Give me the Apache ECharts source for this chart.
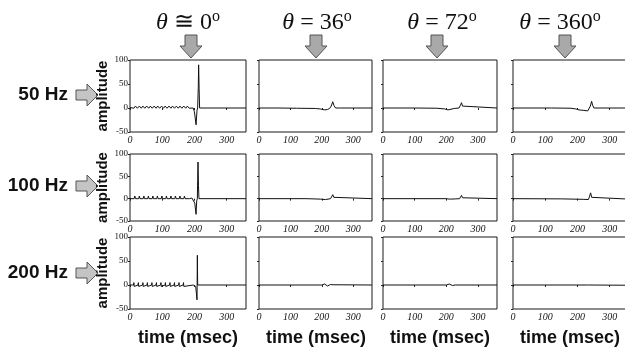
<!DOCTYPE html>
<html>
<head>
<meta charset="utf-8">
<script src="https://cdn.jsdelivr.net/npm/echarts@6/dist/echarts.min.js"></script>
<style>
  html, body { margin: 0; padding: 0; background: #fff; }
  #chart { width: 625px; height: 347px; }
</style>
</head>
<body>
<div id="chart"></div>
<script>
// Row and column headings
const rowLabels = ['50 Hz', '100 Hz', '200 Hz'];
const angleLabels = [
  { sym: '≅', deg: '0' },
  { sym: '=', deg: '36' },
  { sym: '=', deg: '72' },
  { sym: '=', deg: '360' }
];
const xTitle = 'time (msec)';
const yTitle = 'amplitude';
const xTicks = [0, 100, 200, 300];
const yTicks = [-50, 0, 50, 100];

// Waveforms: [time (msec), amplitude]
// 50 Hz
const wave50_0 = [[0,1],[6,4],[12,-0.5],[17,4],[23,-0.5],[29,4],[35,-0.5],[40,4],[46,-0.5],[52,4],[58,-0.5],[63,4],[69,-0.5],[75,4],[81,-0.5],[86,4],[92,-0.5],[98,4],[104,-0.5],[109,4],[115,-0.5],[121,4],[127,-0.5],[132,4],[138,-0.5],[144,4],[150,-0.5],[155,4],[161,-0.5],[167,4],[173,-0.5],[178,4],[184,-0.5],[190,2],[196,0],[200,-8],[205,-35],[208,-5],[210,0],[212,45],[213,90],[214.5,40],[216,0],[360,0]];
const wave50_36 = [[0,0],[60,0],[120,-0.5],[180,-1],[195,-2],[200,-4],[210,-4],[218,-3],[225,-1],[230,4],[235,13],[239,5],[244,0],[260,0],[360,0]];
const wave50_72 = [[0,0],[100,0],[170,-0.5],[195,-2],[205,-4],[210,-2],[225,-1],[240,0],[244,5],[248,11],[251,4],[255,0],[360,0]];
const wave50_360 = [[0,0],[120,0],[180,-0.5],[195,-2],[205,-4],[220,-5],[232,-6],[237,-4],[240,4],[244,14],[247,6],[251,0],[360,0]];
// 100 Hz
const wave100_0 = [[0,0],[13,0],[15,6],[17,0],[27,0],[29,6],[31,0],[41,0],[43,6],[45,0],[55,0],[57,6],[59,0],[69,0],[71,6],[73,0],[83,0],[85,6],[87,0],[97,0],[99,6],[101,0],[111,0],[113,6],[115,0],[125,0],[127,6],[129,0],[139,0],[141,6],[143,0],[153,0],[155,6],[157,0],[167,0],[169,6],[171,0],[185,0],[192,1.5],[198,0],[201,-10],[205,-35],[207,-5],[209,0],[210,40],[211,82],[212.5,30],[214,0],[360,0]];
const wave100_36 = [[0,0],[150,0],[195,-1],[200,-2],[212,-2],[220,-1],[228,0],[231,4],[235,9],[238,3],[242,0],[360,0]];
const wave100_72 = [[0,0],[200,0],[210,-1],[230,-0.5],[242,0],[245,4],[248,7.5],[251,2],[254,0],[360,0]];
const wave100_360 = [[0,0],[150,-0.5],[220,-1.5],[234,-2],[237,4],[241,13],[244,3],[248,-0.5],[360,-1]];
// 200 Hz
const wave200_0 = [[0,0],[11,0],[12,5],[13,-3],[14,0],[25,0],[26,5],[27,-3],[28,0],[39,0],[40,5],[41,-3],[42,0],[53,0],[54,5],[55,-3],[56,0],[67,0],[68,5],[69,-3],[70,0],[81,0],[82,5],[83,-3],[84,0],[95,0],[96,5],[97,-3],[98,0],[109,0],[110,5],[111,-3],[112,0],[123,0],[124,5],[125,-3],[126,0],[137,0],[138,5],[139,-3],[140,0],[151,0],[152,5],[153,-3],[154,0],[165,0],[166,5],[167,-3],[168,0],[196,0],[198,4],[200,-4],[202,3],[204,-3],[206,0],[208,-31],[209,62],[210,0],[360,0]];
const wave200_36 = [[0,0],[200,0],[203,2],[206,-2],[209,2],[212,-2],[215,2],[218,-2],[221,1.5],[224,-1.5],[228,1],[232,-1],[236,0.5],[242,0],[360,0]];
const wave200_72 = [[0,0],[200,0],[203,1.5],[206,-2],[209,2],[212,-1.5],[215,1.5],[219,-1],[223,0.5],[228,0],[360,0]];
const wave200_360 = [[0,0],[234,0],[236,3.5],[237,-3],[238,0],[360,-0.5]];

const waves = [
  [wave50_0, wave50_36, wave50_72, wave50_360],
  [wave100_0, wave100_36, wave100_72, wave100_360],
  [wave200_0, wave200_36, wave200_72, wave200_360]
];

// Panel layout
const colLeft = [130, 259, 383, 513];
const colWidth = [116, 113, 114, 116];
const rowTop = [60, 154, 237];
const rowHeight = [72, 67, 72];
const headCenter = [188, 317, 442, 560];
const arrowCenter = [191, 316, 437, 565];
const footCenter = [188, 316, 440, 570];
const rowCenter = [95, 186, 273];

const serif = '"Liberation Serif", "Times New Roman", serif';
const sans = '"Liberation Sans", Arial, sans-serif';

const grids = [], xAxes = [], yAxes = [], series = [];
waves.forEach((row, r) => {
  row.forEach((data, c) => {
    const idx = grids.length;
    grids.push({
      left: colLeft[c], top: rowTop[r], width: colWidth[c], height: rowHeight[r],
      show: true, borderColor: '#1a1a1a', borderWidth: 1, backgroundColor: '#fff',
      outerBoundsMode: 'none', containLabel: false
    });
    xAxes.push({
      type: 'value', gridIndex: idx, min: 0, max: 360, interval: 100,
      axisLine: { show: false },
      axisTick: { show: true, length: 2, lineStyle: { color: '#222' } },
      splitLine: { show: false },
      axisLabel: {
        margin: 3, fontFamily: serif, fontStyle: 'italic', fontSize: 10, color: '#111',
        showMaxLabel: false,
        formatter: v => xTicks.includes(v) ? String(v) : ''
      }
    });
    yAxes.push({
      type: 'value', gridIndex: idx, min: -50, max: 100, interval: 50,
      axisLine: { show: false },
      axisTick: { show: true, length: 2, lineStyle: { color: '#222' } },
      splitLine: { show: false },
      axisLabel: {
        show: c === 0, margin: 2, fontFamily: serif, fontSize: 9, color: '#111',
        formatter: v => yTicks.includes(v) ? String(v) : ''
      }
    });
    series.push({
      type: 'line', xAxisIndex: idx, yAxisIndex: idx, data: data,
      showSymbol: false, silent: true, animation: false,
      lineStyle: { color: '#111', width: 1 }
    });
  });
});

const graphics = [];
// Angle headings with down arrows
angleLabels.forEach((a, c) => {
  graphics.push({
    type: 'text', x: headCenter[c], y: 23,
    style: {
      text: '{t|θ}{n| ' + a.sym + ' ' + a.deg + '}{s|o}',
      align: 'center', verticalAlign: 'middle',
      rich: {
        t: { fontFamily: serif, fontStyle: 'italic', fontSize: 24, lineHeight: 28, fill: '#111' },
        n: { fontFamily: serif, fontSize: 24, lineHeight: 28, fill: '#111' },
        s: { fontFamily: serif, fontSize: 16, lineHeight: 16, verticalAlign: 'top', fill: '#111' }
      }
    }
  });
  const cx = arrowCenter[c];
  graphics.push({
    type: 'polygon',
    shape: { points: [[cx - 6, 35], [cx + 6, 35], [cx + 6, 46], [cx + 11, 46], [cx, 58], [cx - 11, 46], [cx - 6, 46]] },
    style: { fill: '#a9a9a9', stroke: '#555', lineWidth: 1 }
  });
});
// Row headings with right arrows and y titles
rowLabels.forEach((lab, r) => {
  const cy = rowCenter[r];
  graphics.push({
    type: 'text', x: 68, y: cy,
    style: { text: lab, align: 'right', verticalAlign: 'middle', fontFamily: sans, fontWeight: 'bold', fontSize: 19, fill: '#111' }
  });
  graphics.push({
    type: 'polygon',
    shape: { points: [[76, cy - 5], [87, cy - 5], [87, cy - 11], [98, cy], [87, cy + 11], [87, cy + 5], [76, cy + 5]] },
    style: { fill: '#c4c4c4', stroke: '#555', lineWidth: 1 }
  });
  graphics.push({
    type: 'text', x: 103, y: rowTop[r] + rowHeight[r] / 2, rotation: Math.PI / 2,
    style: { text: yTitle, align: 'center', verticalAlign: 'middle', fontFamily: sans, fontWeight: 'bold', fontSize: 15, fill: '#111' }
  });
});
// Time axis titles
footCenter.forEach(cx => {
  graphics.push({
    type: 'text', x: cx, y: 338,
    style: { text: xTitle, align: 'center', verticalAlign: 'middle', fontFamily: sans, fontWeight: 'bold', fontSize: 18, fill: '#111' }
  });
});

const chart = echarts.init(document.getElementById('chart'), null, { renderer: 'canvas' });
chart.setOption({
  animation: false,
  backgroundColor: '#fff',
  grid: grids,
  xAxis: xAxes,
  yAxis: yAxes,
  series: series,
  graphic: graphics
});
</script>
</body>
</html>
